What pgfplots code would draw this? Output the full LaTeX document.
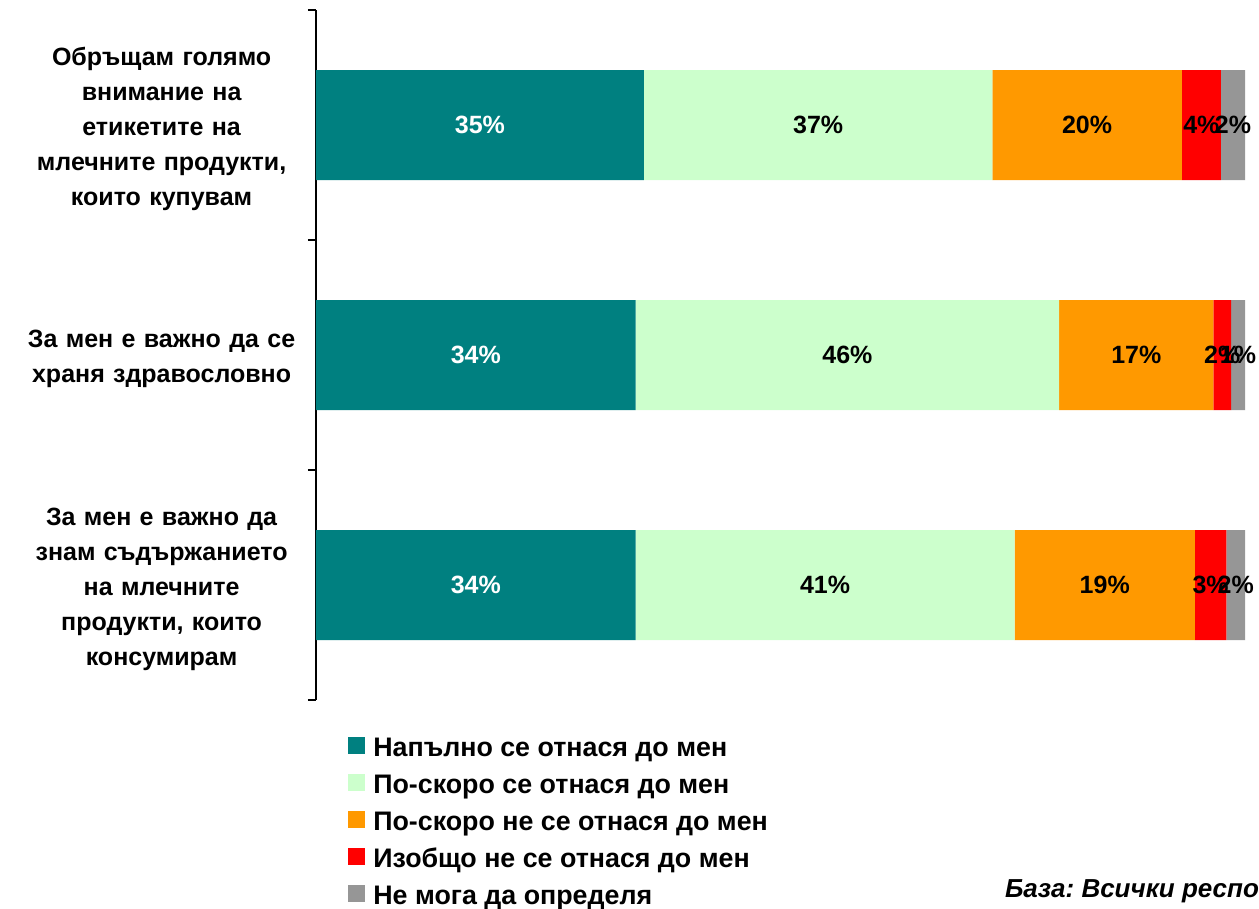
\documentclass[border=0pt]{standalone}
\usepackage{fontspec}
\setmainfont{Liberation Sans}
\usepackage{pgfplots}
\pgfplotsset{compat=1.18}
\frenchspacing

\definecolor{cFull}{RGB}{0,128,128}
\definecolor{cRather}{RGB}{204,255,204}
\definecolor{cRatherNot}{RGB}{255,153,0}
\definecolor{cNot}{RGB}{255,0,0}
\definecolor{cDK}{RGB}{150,150,150}

\pgfplotsset{
  sqleg/.style={legend image code/.code={\fill[##1] (0pt,-2.5pt) rectangle (8.5pt,6pt);}},
}

\begin{document}
\begin{tikzpicture}
\begin{axis}[
  at={(158pt,-5pt)}, anchor=north west,
  scale only axis, width=464.5pt, height=345pt,
  xbar stacked, bar width=55pt,
  xmin=0, xmax=100, ymin=-0.5, ymax=2.5,
  y dir=reverse,
  axis x line=none, xtick=\empty,
  axis y line*=left,
  axis line style={line width=0.7pt},
  ytick={0,1,2},
  minor ytick={-0.5,0.5,1.5,2.5},
  major tick length=0pt, minor tick length=4pt,
  tick align=outside,
  minor tick style={line width=0.7pt, black},
  yticklabels={{Обръщам голямо\\внимание на\\етикетите на\\млечните продукти,\\които купувам},
               {За мен е важно да се\\храня здравословно},
               {За мен е важно да\\знам съдържанието\\на млечните\\продукти, които\\консумирам}},
  yticklabel style={align=center, text width=150pt, inner xsep=0pt, xshift=-2pt, yshift=-2pt,
                    font=\bfseries\fontsize{12.5}{17.5}\selectfont},
  clip=false,
  point meta=explicit symbolic,
  nodes near coords={\pgfplotspointmeta\%},
  every node near coord/.append style={anchor=center,
     font=\bfseries\fontsize{12.5}{14}\selectfont, text=black},
  every axis plot post/.append style={sqleg, draw=none},
  legend style={at={(0.0344,-0.0522)}, anchor=north west, draw=none, fill=none,
    inner sep=0pt, row sep=5.5pt,
    font=\bfseries\fontsize{13.4}{15}\selectfont,
    nodes={inner xsep=4pt, inner ysep=0pt, text height=10pt, text depth=3pt}},
  legend cell align=left,
]
% share of answers per statement, %
\addplot[fill=cFull, every node near coord/.append style={text=white}]
  coordinates {(35.3,0) [35] (34.4,1) [34] (34.4,2) [34]};
\addplot[fill=cRather]
  coordinates {(37.5,0) [37] (45.6,1) [46] (40.8,2) [41]};
\addplot[fill=cRatherNot]
  coordinates {(20.4,0) [20] (16.6,1) [17] (19.4,2) [19]};
\addplot[fill=cNot]
  coordinates {(4.2,0) [4] (1.9,1) [2] (3.4,2) [3]};
\addplot[fill=cDK]
  coordinates {(2.6,0) [2] (1.5,1) [1] (2.0,2) [2]};
\legend{Напълно се отнася до мен, По-скоро се отнася до мен,
  По-скоро не се отнася до мен, Изобщо не се отнася до мен, Не мога да определя}
\end{axis}
\node[anchor=base west, font=\bfseries\itshape\fontsize{13}{15}\selectfont]
  at (499pt,-448.5pt) {База: Всички респонденти};
\pgfresetboundingbox
\path[use as bounding box] (0,0) rectangle (629.5pt,-454.5pt);
\end{tikzpicture}
\end{document}
